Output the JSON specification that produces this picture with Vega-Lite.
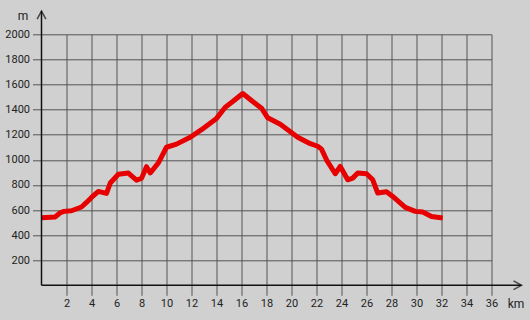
{
  "$schema": "https://vega.github.io/schema/vega-lite/v6.json",
  "width": 450,
  "height": 251,
  "autosize": {"type": "none"},
  "padding": {"left": 41.5, "top": 34.3, "right": 38.5, "bottom": 34.7},
  "background": "#d0d0d0",
  "config": {
    "view": {"stroke": null},
    "font": "Roboto",
    "axis": {"labelFont": "Roboto", "titleFont": "Roboto", "labelColor": "#222", "titleColor": "#222", "labelFontSize": 11, "titleFontSize": 12, "titleFontWeight": "normal", "labelOverlap": false, "labelFlush": false, "format": "d"}
  },
  "datasets": {
    "profile": [
      {"km": 0, "m": 538}, {"km": 1.1, "m": 545}, {"km": 1.5, "m": 578}, {"km": 1.8, "m": 589},
      {"km": 2.4, "m": 594}, {"km": 3.2, "m": 624}, {"km": 3.6, "m": 660}, {"km": 4.0, "m": 700},
      {"km": 4.55, "m": 748}, {"km": 5.2, "m": 732}, {"km": 5.5, "m": 815}, {"km": 6.15, "m": 885},
      {"km": 6.95, "m": 894}, {"km": 7.6, "m": 838}, {"km": 8.0, "m": 852}, {"km": 8.4, "m": 945},
      {"km": 8.7, "m": 895}, {"km": 9.35, "m": 975}, {"km": 10.0, "m": 1100}, {"km": 10.8, "m": 1125},
      {"km": 11.9, "m": 1180}, {"km": 12.8, "m": 1240}, {"km": 14.0, "m": 1330}, {"km": 14.7, "m": 1419},
      {"km": 15.3, "m": 1464}, {"km": 16.1, "m": 1528}, {"km": 16.9, "m": 1464}, {"km": 17.6, "m": 1411},
      {"km": 18.1, "m": 1335}, {"km": 19.1, "m": 1283}, {"km": 20.5, "m": 1180}, {"km": 21.5, "m": 1128},
      {"km": 22.1, "m": 1108}, {"km": 22.4, "m": 1085}, {"km": 22.8, "m": 1000}, {"km": 23.5, "m": 889},
      {"km": 23.9, "m": 947}, {"km": 24.5, "m": 841}, {"km": 24.9, "m": 854}, {"km": 25.3, "m": 894},
      {"km": 26.0, "m": 889}, {"km": 26.5, "m": 841}, {"km": 26.9, "m": 735}, {"km": 27.6, "m": 745},
      {"km": 28.1, "m": 708}, {"km": 29.1, "m": 621}, {"km": 29.9, "m": 589}, {"km": 30.5, "m": 584},
      {"km": 31.2, "m": 549}, {"km": 32.1, "m": 536}
    ]
  },
  "layer": [
    {
      "data": {"name": "profile"},
      "mark": {"type": "line", "color": "#e60000", "strokeWidth": 5, "strokeJoin": "round", "strokeCap": "butt"},
      "encoding": {
        "x": {"field": "km", "type": "quantitative",
          "scale": {"domain": [0, 36], "nice": false, "zero": true},
          "axis": {"values": [2,4,6,8,10,12,14,16,18,20,22,24,26,28,30,32,34,36], "tickCount": 100, "labelOverlap": false, "grid": true, "gridColor": "#555", "gridWidth": 1,
            "domain": false, "tickColor": "#555", "tickSize": 10, "tickWidth": 1, "labelPadding": 2,
            "title": "km", "titleX": 474, "titleY": 18.5, "titleAlign": "center", "titleBaseline": "middle"}},
        "y": {"field": "m", "type": "quantitative",
          "scale": {"domain": [0, 2000], "nice": false},
          "axis": {"values": [200,400,600,800,1000,1200,1400,1600,1800,2000], "tickCount": 100, "labelOverlap": false, "grid": true, "gridColor": "#555", "gridWidth": 1,
            "domain": false, "tickColor": "#555", "tickSize": 9, "tickWidth": 1, "labelPadding": 3,
            "title": "m", "titleAngle": 0, "titleX": -19, "titleY": -19, "titleAlign": "center", "titleBaseline": "middle"}}
      }
    },
    {
      "data": {"values": [{"x1": 0, "x2": 38.4, "y1": 0, "y2": 0}, {"x1": 0, "x2": 0, "y1": 0, "y2": 2185}]},
      "mark": {"type": "rule", "color": "#111", "strokeWidth": 1.5},
      "encoding": {
        "x": {"field": "x1", "type": "quantitative"},
        "x2": {"field": "x2"},
        "y": {"field": "y1", "type": "quantitative"},
        "y2": {"field": "y2"}
      }
    },
    {
      "data": {"values": [{"x": 38.4, "y": 0}]},
      "mark": {"type": "point", "shape": "M-2,-1.1L0,0L-2,1.1", "size": 64, "filled": false, "stroke": "#111", "strokeWidth": 1.5},
      "encoding": {
        "x": {"field": "x", "type": "quantitative"},
        "y": {"field": "y", "type": "quantitative"}
      }
    },
    {
      "data": {"values": [{"x": 0, "y": 2185}]},
      "mark": {"type": "point", "shape": "M-1.1,2L0,0L1.1,2", "size": 64, "filled": false, "stroke": "#111", "strokeWidth": 1.5},
      "encoding": {
        "x": {"field": "x", "type": "quantitative"},
        "y": {"field": "y", "type": "quantitative"}
      }
    }
  ]
}
